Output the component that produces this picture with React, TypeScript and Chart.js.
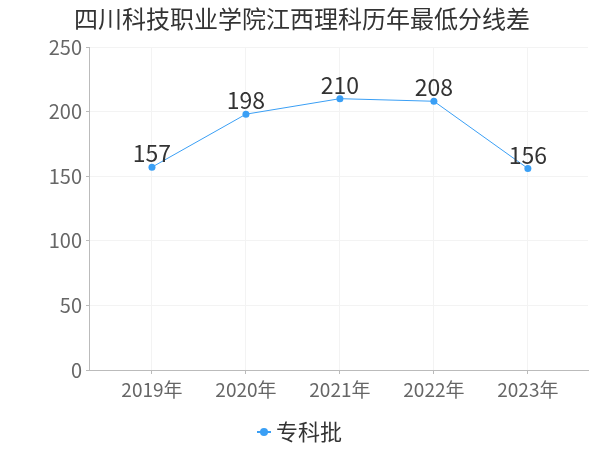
import React, { useEffect, useRef } from "react";
import { Chart, registerables } from "chart.js";

Chart.register(...registerables);

const title = "四川科技职业学院江西理科历年最低分线差";
const categories = ["2019年", "2020年", "2021年", "2022年", "2023年"];
const seriesName = "专科批";
const values = [157, 198, 210, 208, 156];
const yTicks = [0, 50, 100, 150, 200, 250];

const FONT = '"Noto Sans CJK SC", "Noto Sans", sans-serif';
const BLUE = "#3a9ff5";

export default function App() {
  const ref = useRef<HTMLCanvasElement | null>(null);
  useEffect(() => {
    document.body.style.margin = "0";
    const canvas = ref.current!;
    const overlay = {
      id: "overlay",
      afterDatasetsDraw(chart: any) {
        const ctx = chart.ctx;
        const meta = chart.getDatasetMeta(0);
        ctx.save();
        ctx.fillStyle = "#333";
        ctx.font = `23px ${FONT}`;
        ctx.textAlign = "center";
        ctx.textBaseline = "bottom";
        meta.data.forEach((pt: any, i: number) => {
          ctx.fillText(String(values[i]), pt.x, pt.y - 2);
        });
        ctx.restore();
      },
      afterDraw(chart: any) {
        const ctx = chart.ctx;
        ctx.save();
        ctx.fillStyle = "#333";
        ctx.font = `24px ${FONT}`;
        ctx.textAlign = "center";
        ctx.textBaseline = "middle";
        ctx.fillText(title, 302, 19);
        // legend
        const ly = 432;
        ctx.strokeStyle = BLUE;
        ctx.lineWidth = 2;
        ctx.beginPath();
        ctx.moveTo(257, ly);
        ctx.lineTo(271, ly);
        ctx.stroke();
        ctx.fillStyle = BLUE;
        ctx.beginPath();
        ctx.arc(264, ly, 4, 0, Math.PI * 2);
        ctx.fill();
        ctx.fillStyle = "#333";
        ctx.font = `22px ${FONT}`;
        ctx.textAlign = "left";
        ctx.fillText(seriesName, 276, ly);
        ctx.restore();
      },
    };
    const chart = new Chart(canvas, {
      type: "line",
      data: {
        datasets: [
          {
            label: seriesName,
            data: values.map((v, i) => ({ x: i, y: v })),
            borderColor: BLUE,
            backgroundColor: BLUE,
            borderWidth: 1,
            pointRadius: 3.5,
            pointBackgroundColor: BLUE,
            pointBorderWidth: 0,
            tension: 0,
          },
        ],
      },
      options: {
        animation: false,
        responsive: false,
        maintainAspectRatio: false,
        layout: { padding: { top: 47, bottom: 50, left: 0, right: 12 } },
        plugins: {
          legend: { display: false },
          title: { display: false },
          tooltip: { enabled: false },
        },
        scales: {
          x: {
            type: "linear",
            min: -0.67,
            max: 4.64,
            afterBuildTicks: (s: any) => {
              s.ticks = categories.map((_, i) => ({ value: i }));
            },
            afterFit: (s: any) => {
              s.height = 30;
            },
            ticks: {
              color: "#666",
              font: { family: FONT, size: 19 },
              padding: 4,
              maxRotation: 0,
              autoSkip: false,
              callback: (v: any) => categories[v] ?? "",
            },
            grid: {
              color: "#f3f3f3",
              drawTicks: true,
              tickLength: 4,
              tickColor: "#bbb",
            },
            border: { display: true, color: "#bbb" },
          },
          y: {
            min: 0,
            max: 250,
            afterBuildTicks: (s: any) => {
              s.ticks = yTicks.map((v) => ({ value: v }));
            },
            afterFit: (s: any) => {
              s.width = 89;
            },
            ticks: {
              color: "#666",
              font: { family: FONT, size: 20 },
              padding: 4,
            },
            grid: {
              color: "#f3f3f3",
              tickLength: 3,
              tickColor: "#bbb",
            },
            border: { display: true, color: "#bbb" },
          },
        },
      },
      plugins: [overlay],
    } as any);
    return () => chart.destroy();
  }, []);
  return (
    <div style={{ width: 600, height: 450 }}>
      <canvas ref={ref} width={600} height={450} />
    </div>
  );
}
